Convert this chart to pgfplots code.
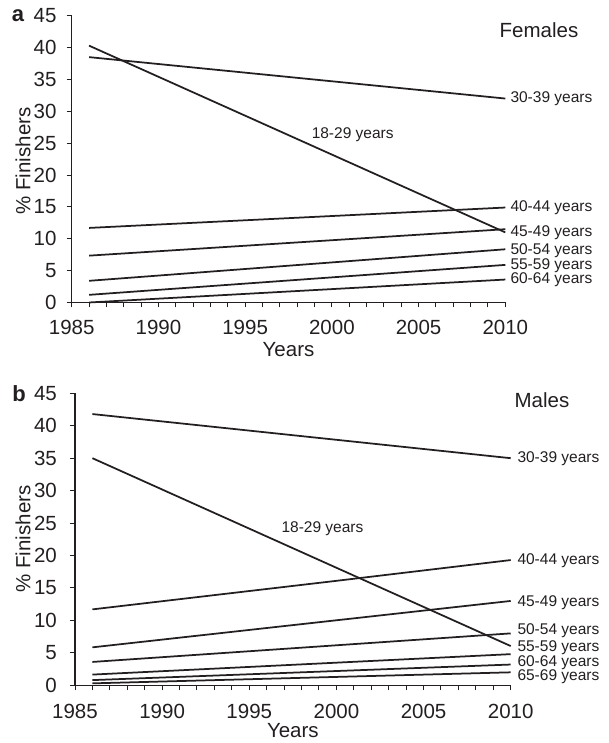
\documentclass[border=0pt]{standalone}
\usepackage{fontspec}
\setmainfont{Liberation Sans}
\usepackage{pgfplots}
\pgfplotsset{compat=1.18}
\definecolor{ink}{RGB}{35,31,32}
\tikzset{
  lab/.style={anchor=west, font=\fontsize{15.5}{17}\selectfont, inner sep=0pt, text=ink},
  ser/.style={ink, line width=1.75pt},
}
\pgfplotsset{
  panel/.style={
    scale only axis,
    anchor=south west,
    xmin=1985, xmax=2010, ymin=0, ymax=45,
    axis x line*=bottom, axis y line*=left,
    axis line style={line width=1.1pt, ink, -},
    xtick={1985,1990,...,2010},
    minor x tick num=4,
    ytick={0,5,...,45},
    tick align=outside,
    major tick length=5pt, minor tick length=5pt,
    tick style={line width=1pt, ink},
    /pgf/number format/assume math mode=true,
    /pgf/number format/set thousands separator={},
    ticklabel style={font=\fontsize{20.5}{22}\selectfont, text=ink, inner sep=0pt},
    xlabel={Years},
    xlabel style={at={(axis description cs:0.5,0)}, anchor=center, font=\fontsize{20.5}{22}\selectfont, text=ink},
    clip=false,
  },
}
\begin{document}
\begin{tikzpicture}[x=1pt,y=1pt]
\useasboundingbox (0,0) rectangle (608,743);
% ---------- Panel a: Females ----------
\begin{axis}[panel, at={(71.7pt,440.5pt)}, width=433.6pt, height=286.8pt,
  yticklabel style={anchor=east, xshift=-10pt},
  xticklabel style={anchor=center, yshift=-20pt},
  xlabel style={yshift=-47.5pt}]
\addplot[ser] coordinates {(1986,40.3) (2010,11.0)};
\addplot[ser] coordinates {(1986,38.5) (2010,32.0)};
\addplot[ser] coordinates {(1986,11.7) (2010,14.9)};
\addplot[ser] coordinates {(1986,7.35) (2010,11.5)};
\addplot[ser] coordinates {(1986,3.4) (2010,8.35)};
\addplot[ser] coordinates {(1986,1.2) (2010,5.9)};
\addplot[ser] coordinates {(1986,0.0) (2010,3.6)};
\node[lab, xshift=5pt] at (axis cs:2010,14.9) {40-44 years};
\node[lab, xshift=5pt] at (axis cs:2010,32.0) {30-39 years};
\node[lab, xshift=5pt] at (axis cs:2010,10.9) {45-49 years};
\node[lab, xshift=5pt] at (axis cs:2010,8.1) {50-54 years};
\node[lab, xshift=5pt] at (axis cs:2010,5.8) {55-59 years};
\node[lab, xshift=5pt] at (axis cs:2010,3.5) {60-64 years};
\node[font=\fontsize{15.5}{17}\selectfont, text=ink] at (axis cs:2001.2,26.3) {18-29 years};
\end{axis}
\node[rotate=90, font=\fontsize{20.5}{22}\selectfont, text=ink] at (23,582) {\% Finishers};
\node[font=\fontsize{20.5}{22}\selectfont, text=ink] at (539,713) {Females};
\node[font=\fontsize{22}{24}\selectfont\bfseries, text=ink] at (18,727) {a};
% ---------- Panel b: Males ----------
\begin{axis}[panel, at={(75pt,57.7pt)}, width=435.7pt, height=292pt,
  yticklabel style={anchor=east, xshift=-13pt},
  xticklabel style={anchor=center, yshift=-20.7pt},
  xlabel style={yshift=-45pt}]
\addplot[ser] coordinates {(1986,41.8) (2010,35.0)};
\addplot[ser] coordinates {(1986,35.0) (2010,6.05)};
\addplot[ser] coordinates {(1986,11.7) (2000,16.1) (2010,19.3)};
\addplot[ser] coordinates {(1986,5.85) (2010,13.0)};
\addplot[ser] coordinates {(1986,3.6) (2010,8.0)};
\addplot[ser] coordinates {(1986,1.65) (2010,4.8)};
\addplot[ser] coordinates {(1986,0.8) (2010,3.2)};
\addplot[ser] coordinates {(1986,0.3) (2010,2.0)};
\node[lab, xshift=6.6pt] at (axis cs:2010,34.9) {30-39 years};
\node[lab, xshift=6.6pt] at (axis cs:2010,19.2) {40-44 years};
\node[lab, xshift=6.6pt] at (axis cs:2010,12.8) {45-49 years};
\node[lab, xshift=6.6pt] at (axis cs:2010,8.4) {50-54 years};
\node[lab, xshift=6.6pt] at (axis cs:2010,5.75) {55-59 years};
\node[lab, xshift=6.6pt] at (axis cs:2010,3.5) {60-64 years};
\node[lab, xshift=6.6pt] at (axis cs:2010,1.25) {65-69 years};
\node[font=\fontsize{15.5}{17}\selectfont, text=ink] at (axis cs:1999.2,24.2) {18-29 years};
\end{axis}
\node[rotate=90, font=\fontsize{20.5}{22}\selectfont, text=ink] at (23,204) {\% Finishers};
\node[font=\fontsize{20.5}{22}\selectfont, text=ink] at (542,343) {Males};
\node[font=\fontsize{22}{24}\selectfont\bfseries, text=ink] at (19,349.7) {b};
\end{tikzpicture}
\end{document}
